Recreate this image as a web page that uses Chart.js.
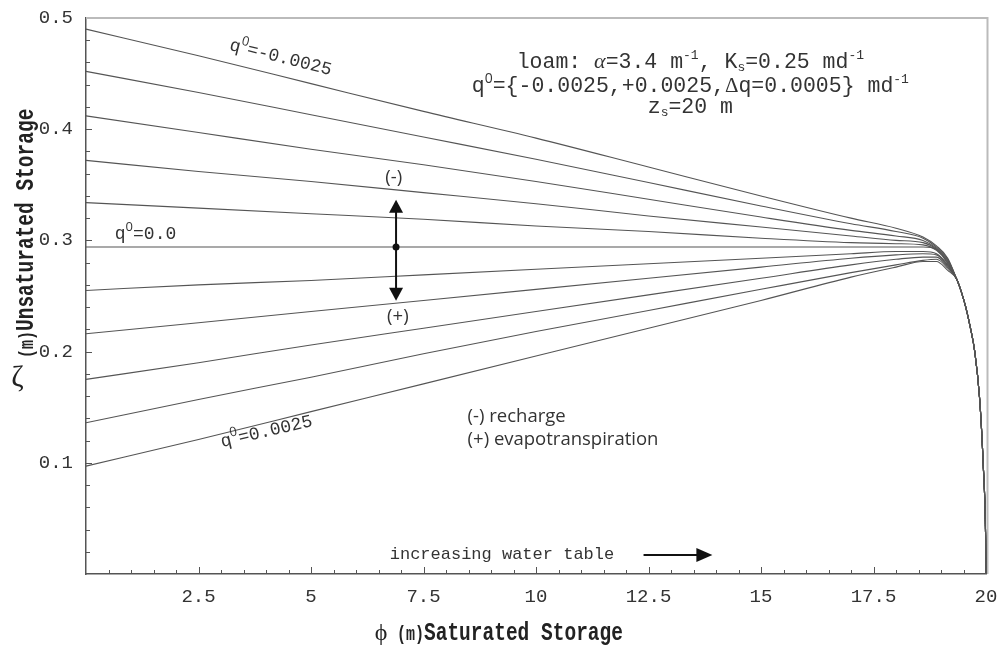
<!DOCTYPE html>
<html>
<head>
<meta charset="utf-8">
<script src="https://cdn.jsdelivr.net/npm/chart.js@4"></script>
<style>
  body { margin: 0; background: #fff; }
  #wrap { width: 1002px; height: 649px; }
</style>
</head>
<body>
<div id="wrap"><canvas id="graph1"></canvas></div>
<script>
// phi (m) where each curve was read, before they join the common drop
var phiBody = [0, 2.5, 5, 7.5, 10, 12.5, 15, 17, 18, 18.6, 18.9, 19.15];
// steep common part close to the surface (zs = 20 m)
var phiTail = [19.35, 19.45, 19.55, 19.65, 19.75, 19.86, 19.94, 19.99, 20];
var zetaTail = [0.265, 0.254, 0.240, 0.222, 0.200, 0.157, 0.097, 0.037, 0];

var fluxes = ['-0.0025', '-0.0020', '-0.0015', '-0.0010', '-0.0005', '0.0', '0.0005', '0.0010', '0.0015', '0.0020', '0.0025'];

// zeta (m) at phiBody, one array per flux q0
var zetaM25 = [0.490, 0.466, 0.441, 0.416, 0.392, 0.366, 0.340, 0.320, 0.311, 0.303, 0.295, 0.284];
var zetaM20 = [0.452, 0.433, 0.413, 0.393, 0.373, 0.352, 0.331, 0.315, 0.308, 0.302, 0.294, 0.283];
var zetaM15 = [0.412, 0.397, 0.382, 0.368, 0.353, 0.337, 0.321, 0.309, 0.304, 0.300, 0.293, 0.282];
var zetaM10 = [0.372, 0.362, 0.353, 0.343, 0.333, 0.322, 0.312, 0.304, 0.300, 0.298, 0.292, 0.281];
var zetaM05 = [0.334, 0.329, 0.324, 0.319, 0.313, 0.308, 0.302, 0.298, 0.297, 0.296, 0.291, 0.280];
var zeta00  = [0.294, 0.294, 0.294, 0.294, 0.294, 0.294, 0.294, 0.294, 0.294, 0.294, 0.292, 0.279];
var zetaP05 = [0.255, 0.260, 0.264, 0.269, 0.274, 0.279, 0.284, 0.288, 0.290, 0.290, 0.288, 0.278];
var zetaP10 = [0.216, 0.226, 0.236, 0.246, 0.256, 0.266, 0.276, 0.284, 0.287, 0.288, 0.287, 0.277];
var zetaP15 = [0.175, 0.190, 0.206, 0.221, 0.236, 0.251, 0.266, 0.278, 0.283, 0.285, 0.285, 0.276];
var zetaP20 = [0.136, 0.157, 0.177, 0.198, 0.218, 0.237, 0.256, 0.271, 0.278, 0.282, 0.283, 0.275];
var zetaP25 = [0.097, 0.121, 0.146, 0.171, 0.196, 0.221, 0.246, 0.267, 0.276, 0.281, 0.281, 0.273];

var curves = [zetaM25, zetaM20, zetaM15, zetaM10, zetaM05, zeta00, zetaP05, zetaP10, zetaP15, zetaP20, zetaP25];

var MONO = "'Liberation Mono', 'Courier New', monospace";
function mono(size, bold) { return (bold ? 'bold ' : '') + size + 'px ' + MONO; }
var SANS = "'Open Sans', sans-serif";
var INK = '#333';

var datasets = [];
curves.forEach(function (zeta, i) {
    var pts = [];
    phiBody.forEach(function (p, j) { pts.push({x: p, y: zeta[j]}); });
    phiTail.forEach(function (p, j) { pts.push({x: p, y: zetaTail[j]}); });
    datasets.push({
        label: 'q0=' + fluxes[i],
        data: pts,
        borderColor: '#555',
        borderWidth: 1.1,
        pointRadius: 0,
        cubicInterpolationMode: 'monotone',
        clip: 4,
        fill: false
    });
});

// draws a line of text made of pieces with their own font / offset
function rich(ctx, x, y, parts, align) {
    var w = 0;
    parts.forEach(function (p) { ctx.font = p.font; p.w = ctx.measureText(p.t).width; w += p.w; });
    var cx = align === 'center' ? x - w / 2 : x;
    ctx.textAlign = 'left';
    ctx.textBaseline = 'alphabetic';
    parts.forEach(function (p) { ctx.font = p.font; ctx.fillText(p.t, cx, y + (p.dy || 0)); cx += p.w; });
}

function q0(size) {
    return [{t: 'q', font: mono(size)}, {t: '0', font: Math.round(size * 0.7) + 'px ' + SANS, dy: -size * 0.45}];
}

function arrowHead(ctx, x, y, dx, dy, len, half) {
    ctx.beginPath();
    ctx.moveTo(x, y);
    ctx.lineTo(x - dx * len - dy * half, y - dy * len + dx * half);
    ctx.lineTo(x - dx * len + dy * half, y - dy * len - dx * half);
    ctx.closePath();
    ctx.fill();
}

var decor = {
    id: 'decor',
    beforeDatasetsDraw: function (chart) {
        var ctx = chart.ctx, xs = chart.scales.x, ys = chart.scales.y, a = chart.chartArea;
        ctx.save();

        // top and right frame, under the curves
        ctx.strokeStyle = '#bbb';
        ctx.lineWidth = 2;
        ctx.beginPath();
        ctx.moveTo(a.left, a.top); ctx.lineTo(a.right + 1.5, a.top); ctx.lineTo(a.right + 1.5, a.bottom);
        ctx.stroke();

        // inward tick marks
        ctx.strokeStyle = '#555';
        ctx.lineWidth = 1;
        xs.ticks.forEach(function (t) {
            if (t.value <= 0 || t.value >= 20) return;
            var x = Math.round(xs.getPixelForValue(t.value)) + 0.5;
            var len = t.label ? 7 : 4;
            ctx.beginPath(); ctx.moveTo(x, a.bottom); ctx.lineTo(x, a.bottom - len); ctx.stroke();
        });
        ys.ticks.forEach(function (t) {
            if (t.value <= 0 || t.value >= 0.5) return;
            var y = Math.round(ys.getPixelForValue(t.value)) + 0.5;
            var len = t.label ? 6 : 4;
            ctx.beginPath(); ctx.moveTo(a.left, y); ctx.lineTo(a.left + len, y); ctx.stroke();
        });
        ctx.restore();
    },
    afterDatasetsDraw: function (chart) {
        var ctx = chart.ctx, xs = chart.scales.x, ys = chart.scales.y;
        function P(x, y) { return {x: xs.getPixelForValue(x), y: ys.getPixelForValue(y)}; }
        ctx.save();
        ctx.fillStyle = INK;

        // curve labels
        var p = P(3.17, 0.4715);
        ctx.save(); ctx.translate(p.x, p.y); ctx.rotate(14 * Math.PI / 180);
        rich(ctx, 0, 0, q0(18).concat([{t: '=-0.0025', font: mono(18)}]));
        ctx.restore();

        p = P(0.64, 0.3013);
        rich(ctx, p.x, p.y, q0(18).concat([{t: '=0.0', font: mono(18)}]));

        p = P(3.02, 0.1142);
        ctx.save(); ctx.translate(p.x, p.y); ctx.rotate(-13 * Math.PI / 180);
        rich(ctx, 0, 0, q0(18).concat([{t: '=0.0025', font: mono(18)}]));
        ctx.restore();

        // parameter block
        var sup = mono(13), sub = mono(13), tx = mono(21.5);
        p = P(13.43, 0.455);
        rich(ctx, p.x, p.y, [
            {t: 'loam: ', font: tx}, {t: 'α', font: "italic 22px 'Liberation Serif'"},
            {t: '=3.4 m', font: tx}, {t: '-1', font: sup, dy: -9},
            {t: ', K', font: tx}, {t: 's', font: sub, dy: 3},
            {t: '=0.25 md', font: tx}, {t: '-1', font: sup, dy: -9}
        ], 'center');
        p = P(13.43, 0.4339);
        rich(ctx, p.x, p.y, [
            {t: 'q', font: tx}, {t: '0', font: '14px ' + SANS, dy: -9},
            {t: '={-0.0025,+0.0025,', font: tx}, {t: 'Δ', font: "21px 'Liberation Serif'"},
            {t: 'q=0.0005} md', font: tx}, {t: '-1', font: sup, dy: -9}
        ], 'center');
        p = P(13.43, 0.4146);
        rich(ctx, p.x, p.y, [
            {t: 'z', font: tx}, {t: 's', font: sub, dy: 3}, {t: '=20 m', font: tx}
        ], 'center');

        // double arrow on q0 = 0
        var top = P(6.89, 0.3366), bot = P(6.89, 0.2458), mid = P(6.89, 0.294);
        ctx.fillStyle = '#111';
        ctx.strokeStyle = '#111';
        ctx.lineWidth = 2;
        ctx.beginPath(); ctx.moveTo(top.x, top.y + 8); ctx.lineTo(bot.x, bot.y - 8); ctx.stroke();
        arrowHead(ctx, top.x, top.y, 0, -1, 13, 7);
        arrowHead(ctx, bot.x, bot.y, 0, 1, 13, 7);
        ctx.beginPath(); ctx.arc(mid.x, mid.y, 3.5, 0, Math.PI * 2); ctx.fill();

        ctx.fillStyle = INK;
        ctx.font = '18.5px ' + SANS;
        ctx.textAlign = 'center';
        ctx.textBaseline = 'middle';
        p = P(6.84, 0.3561); ctx.fillText('(-)', p.x, p.y);
        p = P(6.93, 0.2316); ctx.fillText('(+)', p.x, p.y);
        ctx.textAlign = 'left';
        p = P(8.48, 0.1416); ctx.fillText('(-) recharge', p.x, p.y);
        p = P(8.48, 0.1205); ctx.fillText('(+) evapotranspiration', p.x, p.y);

        // increasing water table
        ctx.font = mono(17);
        p = P(6.75, 0.0171); ctx.fillText('increasing water table', p.x, p.y);
        var a1 = P(12.39, 0.0171), a2 = P(13.92, 0.0171);
        ctx.fillStyle = '#111';
        ctx.strokeStyle = '#111';
        ctx.lineWidth = 2;
        ctx.beginPath(); ctx.moveTo(a1.x, a1.y); ctx.lineTo(a2.x - 10, a2.y); ctx.stroke();
        arrowHead(ctx, a2.x, a2.y, 1, 0, 16, 7);

        ctx.restore();
    },
    afterDraw: function (chart) {
        var ctx = chart.ctx;
        ctx.save();
        ctx.fillStyle = '#222';
        ctx.textBaseline = 'alphabetic';

        // y title
        ctx.font = "30px 'Liberation Serif'";
        ctx.textAlign = 'center';
        ctx.fillText('ζ', 17.5, 386);
        ctx.save();
        ctx.translate(33, 358);
        ctx.rotate(-Math.PI / 2);
        ctx.scale(1, 1.35);
        rich(ctx, 0, 0, [{t: '(m)', font: mono(15, true)}, {t: 'Unsaturated Storage', font: mono(19.5, true)}]);
        ctx.restore();

        // x title
        ctx.font = "24px 'Liberation Serif'";
        ctx.textAlign = 'center';
        ctx.fillText('ϕ', 381, 640);
        ctx.save();
        ctx.translate(397, 640);
        ctx.scale(1, 1.35);
        rich(ctx, 0, 0, [{t: '(m)', font: mono(15, true)}, {t: 'Saturated Storage', font: mono(19.5, true)}]);
        ctx.restore();

        ctx.restore();
    }
};

var ctx = document.getElementById('graph1').getContext('2d');
var graph1 = new Chart(ctx, {
    type: 'line',
    data: {datasets: datasets},
    plugins: [decor],
    options: {
        responsive: true,
        maintainAspectRatio: false,
        animation: false,
        layout: {padding: {top: 18, right: 16, left: 0, bottom: 0}},
        plugins: {legend: {display: false}, tooltip: {enabled: false}},
        scales: {
            x: {
                type: 'linear', min: 0, max: 20,
                grid: {display: false, drawTicks: false},
                border: {display: true, color: '#555', width: 1.5},
                afterFit: function (s) {
                    s.height = 75;
                    s.paddingLeft = 0; s.paddingRight = 0;
                },
                ticks: {
                    stepSize: 0.5, autoSkip: false, maxRotation: 0, padding: 12,
                    color: INK, font: {family: MONO, size: 19},
                    callback: function (v) {
                        var k = Math.round(v * 10);
                        return (k % 25 === 0 && k !== 0) ? String(k / 10) : '';
                    }
                }
            },
            y: {
                type: 'linear', min: 0, max: 0.5,
                grid: {display: false, drawTicks: false},
                border: {display: true, color: '#555', width: 1.5},
                afterFit: function (s) {
                    s.width = 86;
                    s.paddingTop = 0; s.paddingBottom = 0;
                },
                ticks: {
                    stepSize: 0.02, autoSkip: false, padding: 13,
                    color: INK, font: {family: MONO, size: 19},
                    callback: function (v) {
                        var k = Math.round(v * 100);
                        return (k % 10 === 0 && k !== 0) ? String(k / 100) : '';
                    }
                }
            }
        }
    }
});
</script>
</body>
</html>
